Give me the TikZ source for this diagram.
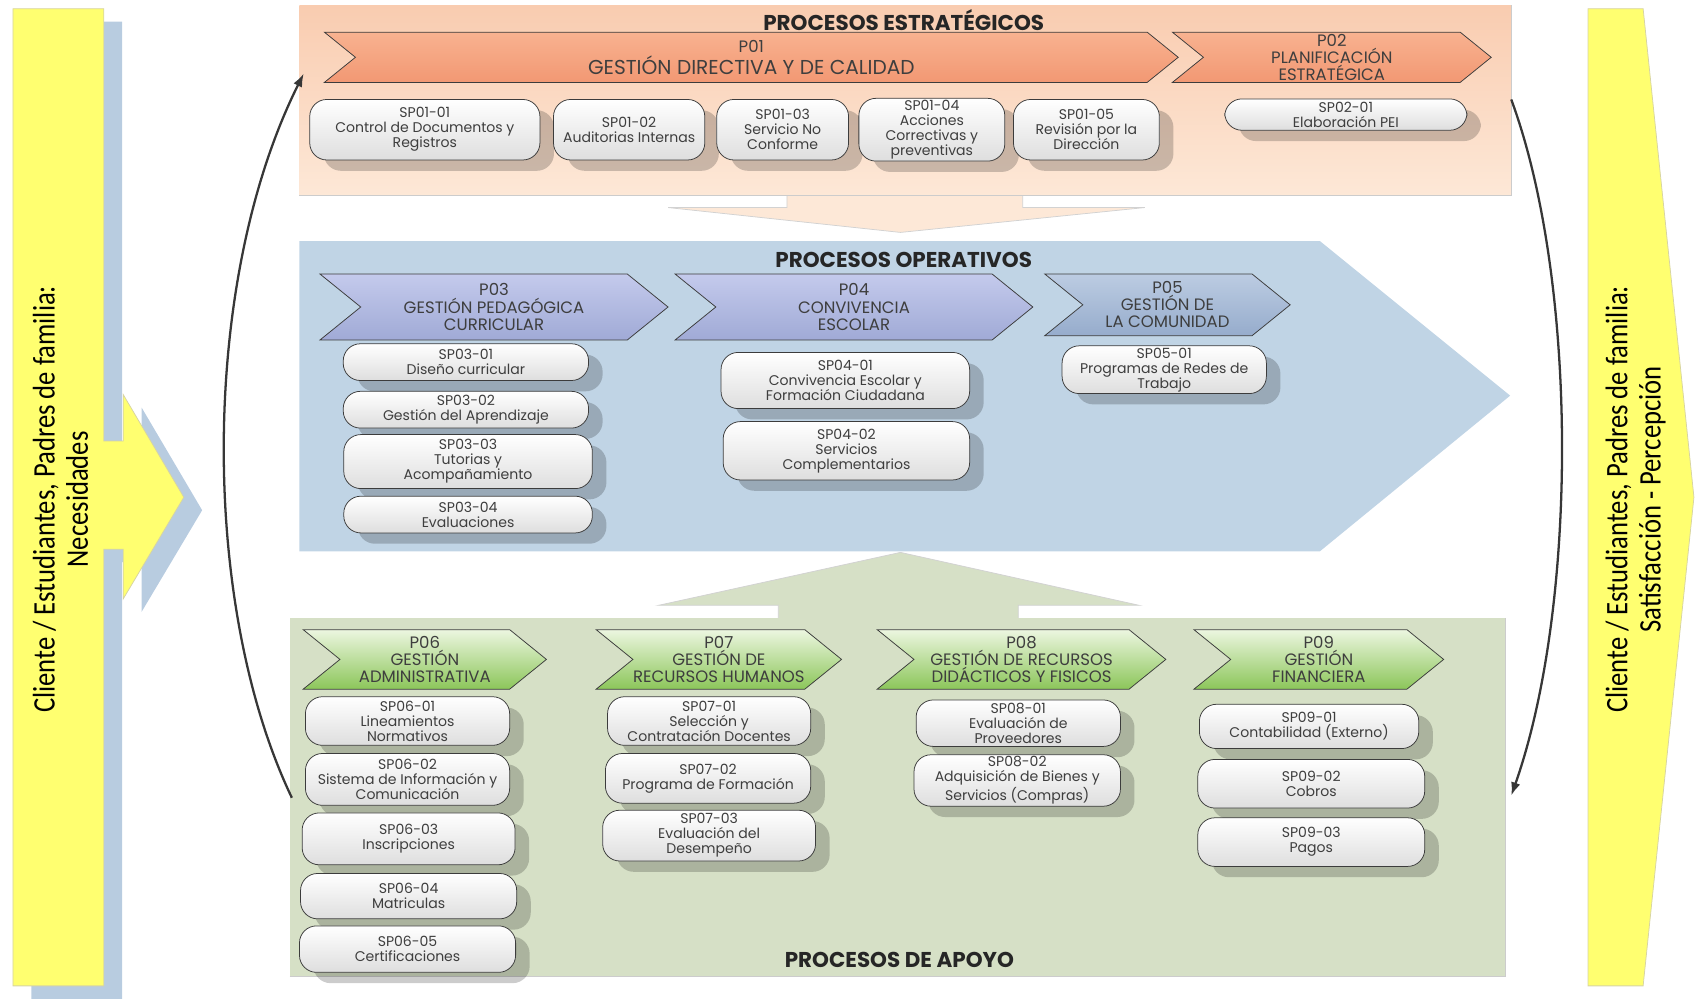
\documentclass[tikz,border=0pt]{standalone}
\usepackage{fontspec}
\setmainfont{Poppins}
\newfontfamily\sidefont[FakeStretch=0.85]{Carlito}
\usetikzlibrary{shapes.symbols,shadows,arrows.meta}

\definecolor{clientyellow}{RGB}{255,255,112}
\definecolor{clientshadow}{RGB}{184,204,224}
\definecolor{peachtop}{RGB}{249,204,176}
\definecolor{peachbot}{RGB}{253,232,215}
\definecolor{salmontop}{RGB}{248,178,144}
\definecolor{salmonbot}{RGB}{242,152,115}
\definecolor{opsblue}{RGB}{192,212,229}
\definecolor{lavtop}{RGB}{196,202,236}
\definecolor{lavbot}{RGB}{160,170,214}
\definecolor{comtop}{RGB}{188,204,226}
\definecolor{combot}{RGB}{150,172,204}
\definecolor{apoyogreen}{RGB}{214,224,198}
\definecolor{greentop}{RGB}{236,246,224}
\definecolor{greenbot}{RGB}{140,198,90}
\definecolor{boxgray}{RGB}{222,222,222}
\definecolor{boxline}{RGB}{60,60,60}
\definecolor{txtgray}{RGB}{62,62,62}
\definecolor{arcgray}{RGB}{55,55,55}

\tikzset{
  subproc/.style={draw=boxline, rounded corners=9pt, top color=white, bottom color=boxgray,
    align=center, inner sep=1pt, text=txtgray, font=\fontsize{7.4}{7.9}\selectfont,
    drop shadow={shadow xshift=0.26cm, shadow yshift=-0.2cm, fill=black, opacity=0.2}},
  chevron/.style={signal, signal to=east, signal from=west, signal pointer angle=78,
    draw=boxline, align=center, inner sep=0pt, text=txtgray,
    font=\fontsize{8.7}{9}\selectfont},
  estrat/.style={chevron, top color=salmontop, bottom color=salmonbot},
  oper/.style={chevron, top color=lavtop, bottom color=lavbot},
  apoyo/.style={chevron, top color=greentop, bottom color=greenbot},
  title/.style={font=\bfseries\fontsize{11.3}{13}\selectfont, text=black!85},
  client/.style={rotate=90, align=center, font=\sidefont\fontsize{16.5}{17.5}\selectfont},
  cycle arc/.style={draw=arcgray, line width=1.2pt, -{Latex[length=7pt,width=5pt]}}
}

\begin{document}
\begin{tikzpicture}[x=0.02cm, y=-0.02cm]
\useasboundingbox (0,0) rectangle (1568,926);

% Cliente: necesidades (left)
\fill[clientshadow] (29,20) -- (113,20) -- (113,420) -- (131,420) -- (131,377) -- (187,472)
  -- (131,566) -- (131,520) -- (113,520) -- (113,924) -- (29,924) -- cycle;
\draw[fill=clientyellow, draw=yellow!40!gray!60] (12,8) -- (96,8) -- (96,408) -- (114,408)
  -- (114,365) -- (170,460) -- (114,554) -- (114,508) -- (96,508) -- (96,912) -- (12,912) -- cycle;
\node[client] (necesidades) at (56,462) {Cliente / Estudiantes, Padres de familia:\\Necesidades};

% Cliente: satisfaccion (right)
\draw[fill=clientyellow, draw=yellow!40!gray!60] (1469,8) -- (1520,8) -- (1567,460)
  -- (1520,912) -- (1469,912) -- cycle;
\node[client] (satisfaccion) at (1513,462) {Cliente / Estudiantes, Padres de familia:\\Satisfacción - Percepción};

% Procesos estrategicos
\draw[fill=peachbot, draw=gray!35] (728,178) -- (728,192) -- (618,192) -- (833,215)
  -- (1059,192) -- (946,192) -- (946,178);
\shade[top color=peachtop, bottom color=peachbot] (277,5) rectangle (1398,181);
\draw[gray!40] (277,181) -- (1398,181) -- (1398,5);
\node[title] (tEstrat) at (836,19) {PROCESOS ESTRATÉGICOS};

\node[estrat, minimum width=15.8cm, minimum height=0.93cm] (p01) at (695,53)
  {P01\\[1pt]{\fontsize{10.6}{11}\selectfont GESTIÓN DIRECTIVA Y DE CALIDAD}};
\node[estrat, minimum width=5.9cm, minimum height=0.93cm] (p02) at (1232,53)
  {P02\\PLANIFICACIÓN\\ESTRATÉGICA};

\node[subproc, minimum width=4.26cm, minimum height=1.12cm] (sp0101) at (393,120) {SP01-01\\Control de Documentos y\\Registros};
\node[subproc, minimum width=2.8cm, minimum height=1.12cm] (sp0102) at (582,120) {SP01-02\\Auditorias Internas};
\node[subproc, minimum width=2.44cm, minimum height=1.12cm] (sp0103) at (724,120) {SP01-03\\Servicio No\\Conforme};
\node[subproc, minimum width=2.7cm, minimum height=1.12cm] (sp0104) at (862,120) {SP01-04\\Acciones\\Correctivas y\\preventivas};
\node[subproc, minimum width=2.7cm, minimum height=1.12cm] (sp0105) at (1005,120) {SP01-05\\Revisión por la\\Dirección};
\node[subproc, minimum width=4.48cm, minimum height=0.58cm] (sp0201) at (1245,106) {SP02-01\\Elaboración PEI};

% Procesos operativos
\fill[opsblue] (277,223) -- (1221,223) -- (1397,366) -- (1221,510) -- (277,510) -- cycle;
\node[title] (tOper) at (836,240) {PROCESOS OPERATIVOS};

\node[oper, minimum width=6.44cm, minimum height=1.22cm] (p03) at (457,284) {P03\\GESTIÓN PEDAGÓGICA\\CURRICULAR};
\node[oper, minimum width=6.62cm, minimum height=1.22cm] (p04) at (790,284) {P04\\CONVIVENCIA\\ESCOLAR};
\node[chevron, top color=comtop, bottom color=combot, minimum width=4.54cm, minimum height=1.14cm] (p05) at (1080,282) {P05\\GESTIÓN DE\\LA COMUNIDAD};

\node[subproc, minimum width=4.54cm, minimum height=0.68cm] (sp0301) at (431,335) {SP03-01\\Diseño curricular};
\node[subproc, minimum width=4.54cm, minimum height=0.68cm] (sp0302) at (431,379) {SP03-02\\Gestión del Aprendizaje};
\node[subproc, minimum width=4.6cm, minimum height=1.0cm] (sp0303) at (433,427) {SP03-03\\Tutorias y\\Acompañamiento};
\node[subproc, minimum width=4.6cm, minimum height=0.68cm] (sp0304) at (433,476) {SP03-04\\Evaluaciones};
\node[subproc, minimum width=4.6cm, minimum height=1.04cm] (sp0401) at (782,352) {SP04-01\\Convivencia Escolar y\\Formación Ciudadana};
\node[subproc, minimum width=4.56cm, minimum height=1.08cm] (sp0402) at (783,417) {SP04-02\\Servicios\\Complementarios};
\node[subproc, minimum width=3.78cm, minimum height=0.88cm] (sp0501) at (1077,342) {SP05-01\\Programas de Redes de\\Trabajo};

% Procesos de apoyo
\draw[fill=apoyogreen, draw=gray!35] (720,576) -- (720,560) -- (609,560) -- (833,511)
  -- (1054,560) -- (942,560) -- (942,576);
\fill[apoyogreen] (268,572) rectangle (1393,903);
\draw[gray!40] (268,903) -- (1393,903) -- (1393,572);
\node[title] (tApoyo) at (832,888) {PROCESOS DE APOYO};

\node[apoyo, minimum width=4.5cm, minimum height=1.1cm] (p06) at (393,610) {P06\\GESTIÓN\\ADMINISTRATIVA};
\node[apoyo, minimum width=4.54cm, minimum height=1.1cm] (p07) at (665,610) {P07\\GESTIÓN DE\\RECURSOS HUMANOS};
\node[apoyo, minimum width=5.34cm, minimum height=1.1cm] (p08) at (945,610) {P08\\GESTIÓN DE RECURSOS\\DIDÁCTICOS Y FISICOS};
\node[apoyo, minimum width=4.62cm, minimum height=1.1cm] (p09) at (1220,610) {P09\\GESTIÓN\\FINANCIERA};

\node[subproc, minimum width=3.78cm, minimum height=0.9cm] (sp0601) at (377,667) {SP06-01\\Lineamientos\\Normativos};
\node[subproc, minimum width=3.78cm, minimum height=0.96cm] (sp0602) at (377,721) {SP06-02\\Sistema de Información y\\Comunicación};
\node[subproc, minimum width=3.94cm, minimum height=0.96cm] (sp0603) at (378,776) {SP06-03\\Inscripciones};
\node[subproc, minimum width=4.0cm, minimum height=0.84cm] (sp0604) at (378,829) {SP06-04\\Matriculas};
\node[subproc, minimum width=4.0cm, minimum height=0.86cm] (sp0605) at (377,878) {SP06-05\\Certificaciones};
\node[subproc, minimum width=3.76cm, minimum height=0.9cm] (sp0701) at (656,667) {SP07-01\\Selección y\\Contratación Docentes};
\node[subproc, minimum width=3.8cm, minimum height=0.92cm] (sp0702) at (655,720) {SP07-02\\Programa de Formación};
\node[subproc, minimum width=3.94cm, minimum height=0.94cm] (sp0703) at (656,773) {SP07-03\\Evaluación del\\Desempeño};
\node[subproc, minimum width=3.78cm, minimum height=0.86cm] (sp0801) at (942,669) {SP08-01\\Evaluación de\\Proveedores};
\node[subproc, minimum width=3.82cm, minimum height=0.9cm] (sp0802) at (941,722) {SP08-02\\Adquisición de Bienes y\\Servicios (Compras)};
\node[subproc, minimum width=4.06cm, minimum height=0.82cm] (sp0901) at (1211,672) {SP09-01\\Contabilidad (Externo)};
\node[subproc, minimum width=4.2cm, minimum height=0.9cm] (sp0902) at (1213,725) {SP09-02\\Cobros};
\node[subproc, minimum width=4.2cm, minimum height=0.9cm] (sp0903) at (1213,779) {SP09-03\\Pagos};

% Ciclo: apoyo -> estrategicos -> apoyo
\coordinate (apoyoL) at (270,738);
\coordinate (estratL) at (281,68);
\coordinate (estratR) at (1398,92);
\coordinate (apoyoR) at (1398,736);
\draw[cycle arc] (apoyoL) .. controls (185,560) and (185,260) .. (estratL);
\draw[cycle arc] (estratR) .. controls (1460,260) and (1460,560) .. (apoyoR);
\end{tikzpicture}
\end{document}
